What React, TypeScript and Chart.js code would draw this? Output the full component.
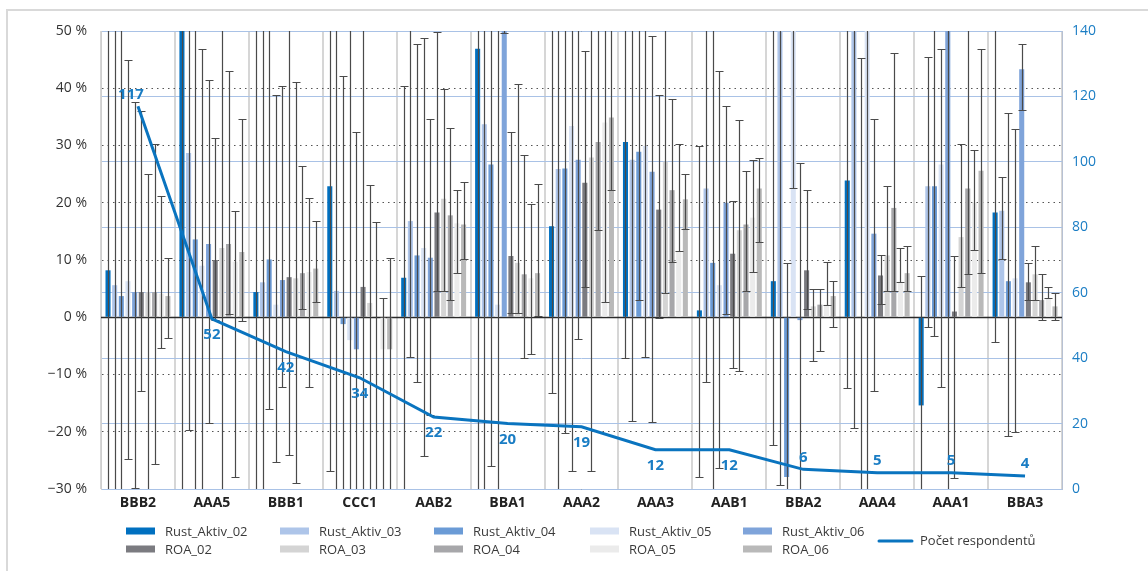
import React, { useEffect, useRef } from "react";
import { Chart, registerables } from "chart.js";

Chart.register(...registerables);

const categories = ["BBB2", "AAA5", "BBB1", "CCC1", "AAB2", "BBA1", "AAA2", "AAA3", "AAB1", "BBA2", "AAA4", "AAA1", "BBA3"];

// Bar values (%)
const rust02 = [8.2, 60, 4.4, 22.9, 6.9, 46.9, 15.9, 30.6, 1.2, 6.3, 23.9, -15.4, 18.3];
const rust03 = [5.6, 28.7, 6.1, 4.6, 16.8, 33.7, 25.9, 27.5, 22.5, 60, 62, 22.9, 18.6];
const rust04 = [3.7, 13.6, 10.1, -1.2, 10.8, 26.7, 26.0, 28.9, 9.5, -27.9, 0, 22.9, 6.3];
const rust05 = [6.3, 9.0, 2.2, -4.0, 12.1, 2.2, 33.4, 29.9, 5.6, 60, 60, 26.7, 6.8];
const rust06 = [4.4, 12.8, 6.5, -5.6, 10.4, 68, 27.5, 25.4, 20.0, -0.5, 14.6, 65, 43.3];
const roa02 = [4.4, 10.0, 7.0, 5.3, 18.3, 10.7, 23.5, 18.8, 11.1, 8.2, 7.3, 1.0, 6.1];
const roa03 = [4.4, 12.1, 6.8, 2.5, 20.7, 9.5, 27.9, 27.2, 15.2, 1.9, 10.8, 14.0, 7.5];
const roa04 = [4.4, 12.8, 7.7, 0, 17.8, 7.5, 30.6, 22.2, 16.2, 2.2, 19.1, 22.5, 3.0];
const roa05 = [4.1, 9.7, 7.9, -5.6, 16.4, 6.8, 34.0, 11.6, 17.4, 2.2, 6.2, 20.0, 3.3];
const roa06 = [3.7, 11.4, 8.5, -5.6, 16.2, 7.7, 34.9, 20.6, 22.5, 3.7, 7.7, 25.6, 1.9];

// Error bar ends (%)
const rust02Lo = [-60, -60, -60, -26.9, -60, -60, -13.2, -7.2, -27.9, -22.4, -12.3, -60, -4.3];
const rust02Hi = [80, 80, 80, 80, 40.4, 80, 80, 80, 29.9, 80, 80, 7.2, 80];
const rust03Lo = [-60, -19.7, -60, -60, -7.0, -60, -60, -18.1, -11.3, -29.3, -19.4, -1.7, 10.1];
const rust03Hi = [80, 80, 80, 80, 80, 80, 80, 80, 80, 80, 80, 45.5, 24.5];
const rust04Lo = [-60, -60, -16.1, -60, -11.3, -26.0, -20.3, 3.1, -60, -60, -60, -3.3, -20.7];
const rust04Hi = [80, 80, 80, 42.2, 47.7, 80, 80, 80, 80, 9.4, 45.2, 80, 35.7];
const rust05Lo = [-24.8, -60, -25.3, -60, -24.2, -60, -26.9, -7.0, -26.4, 22.6, -60, -12.1, -20.0];
const rust05Hi = [44.9, 46.8, 38.8, 80, 48.7, 80, 80, 80, 43.1, 80, 80, 46.8, 32.8];
const rust06Lo = [-29.8, -18.5, -12.1, -60, -17.0, 49.7, -3.8, -18.3, 0.5, -60, -12.9, -60, 36.2];
const rust06Hi = [37.6, 41.5, 40.4, 32.3, 34.6, 90, 80, 49.1, 36.9, 27.0, 34.6, 80, 47.7];
const roa02Lo = [-12.9, -0.4, -24.1, -60, 4.6, 0.8, 5.3, -0.2, -8.8, 1.5, 2.4, -28.1, 3.0];
const roa02Hi = [36, 31.3, 80, 80, 49.8, 32.3, 46.5, 38.8, 20.3, 22.2, 10.8, 10.7, 9.4];
const roa03Lo = [-60, -60, -28.9, -60, 4.6, 0.8, -26.9, 4.3, -9.4, -7.7, 4.5, 5.3, 3.1];
const roa03Hi = [25.1, 80, 41.1, 23.1, 39.8, 40.7, 80, 80, 34.4, 5.0, 22.9, 30.3, 12.5];
const roa04Lo = [-25.7, 0.5, 1.5, -60, 3.1, -7.1, 15.2, 9.7, 4.6, -5.9, 4.5, 7.5, -0.4];
const roa04Hi = [30.3, 43.1, 26.4, 16.7, 33.0, 28.4, 80, 38.1, 25.6, 5.0, 46.2, 80, 7.5];
const roa05Lo = [-5.3, -27.9, -12.1, -60, 7.7, -6.5, 2.7, 11.5, 7.9, 2.2, 6.2, 11.8, 3.4];
const roa05Hi = [21.2, 18.6, 20.9, 3.4, 22.2, 19.7, 80, 30.2, 27.4, 9.7, 12.1, 29.3, 5.3];
const roa06Lo = [-3.6, -0.7, 2.7, -60, 10.1, 0.3, 22.2, 15.5, 13.2, -1.7, 4.6, 7.7, -0.4];
const roa06Hi = [10.4, 34.6, 16.8, 10.4, 23.6, 23.3, 50.7, 25.1, 27.9, 6.3, 12.5, 46.8, 4.3];

// Line (right axis)
const respondents = [117, 52, 42, 34, 22, 20, 19, 12, 12, 6, 5, 5, 4];

// Tick ranges
const leftMin = -30, leftMax = 50, leftStep = 10;
const rightMin = 0, rightMax = 140, rightStep = 20;

const FONT = '"Open Sans", "Noto Sans", "DejaVu Sans", sans-serif';
const LINE_BLUE = "#0a74bf";
const LABEL_BLUE = "#1a7dc4";

export default function App() {
  const ref = useRef<HTMLCanvasElement>(null);

  useEffect(() => {
    const canvas = ref.current;
    if (!canvas) return;

    const bars = [
      { label: "Rust_Aktiv_02", data: rust02, lo: rust02Lo, hi: rust02Hi, color: "#0070c0" },
      { label: "Rust_Aktiv_03", data: rust03, lo: rust03Lo, hi: rust03Hi, color: "#aec5e9" },
      { label: "Rust_Aktiv_04", data: rust04, lo: rust04Lo, hi: rust04Hi, color: "#6b9bd6" },
      { label: "Rust_Aktiv_05", data: rust05, lo: rust05Lo, hi: rust05Hi, color: "#d9e3f4" },
      { label: "Rust_Aktiv_06", data: rust06, lo: rust06Lo, hi: rust06Hi, color: "#7fa4da" },
      { label: "ROA_02", data: roa02, lo: roa02Lo, hi: roa02Hi, color: "#7b7b80" },
      { label: "ROA_03", data: roa03, lo: roa03Lo, hi: roa03Hi, color: "#d4d4d4" },
      { label: "ROA_04", data: roa04, lo: roa04Lo, hi: roa04Hi, color: "#a7a7aa" },
      { label: "ROA_05", data: roa05, lo: roa05Lo, hi: roa05Hi, color: "#ebebeb" },
      { label: "ROA_06", data: roa06, lo: roa06Lo, hi: roa06Hi, color: "#b9b9b9" },
    ];

    const datasets: any[] = [
      {
        type: "line",
        label: "Počet respondentů",
        data: respondents,
        yAxisID: "y2",
        borderColor: LINE_BLUE,
        backgroundColor: LINE_BLUE,
        borderWidth: 3,
        pointRadius: 0,
        tension: 0,
        order: 0,
      },
      ...bars.map((b) => ({
        type: "bar",
        label: b.label,
        data: b.data,
        errLo: b.lo,
        errHi: b.hi,
        yAxisID: "y",
        backgroundColor: b.color,
        borderWidth: 0,
        categoryPercentage: 0.9,
        barPercentage: 0.76,
        order: 1,
      })),
    ];

    const errorBars = {
      id: "errorBars",
      afterDatasetDraw(chart: any, args: any) {
        const ds = chart.data.datasets[args.index];
        if (!ds.errLo) return;
        const ctx = chart.ctx;
        const a = chart.chartArea;
        const ys = chart.scales.y;
        ctx.save();
        ctx.beginPath();
        ctx.rect(a.left, a.top, a.right - a.left, a.bottom - a.top);
        ctx.clip();
        ctx.strokeStyle = "#4a4a4a";
        ctx.lineWidth = 1.2;
        args.meta.data.forEach((el: any, j: number) => {
          const x = Math.round(el.x) + 0.5;
          const yl = Math.round(ys.getPixelForValue(ds.errLo[j])) + 0.5;
          const yh = Math.round(ys.getPixelForValue(ds.errHi[j])) + 0.5;
          ctx.beginPath();
          ctx.moveTo(x, yl);
          ctx.lineTo(x, yh);
          ctx.moveTo(x - 4, yl);
          ctx.lineTo(x + 4, yl);
          ctx.moveTo(x - 4, yh);
          ctx.lineTo(x + 4, yh);
          ctx.stroke();
        });
        ctx.restore();
      },
    };

    const zeroLine = {
      id: "zeroLine",
      beforeDatasetsDraw(chart: any) {
        const ctx = chart.ctx;
        const a = chart.chartArea;
        const y0 = Math.round(chart.scales.y.getPixelForValue(0)) + 0.5;
        ctx.save();
        ctx.strokeStyle = "#2a2a2a";
        ctx.lineWidth = 1.5;
        ctx.beginPath();
        ctx.moveTo(a.left, y0);
        ctx.lineTo(a.right, y0);
        ctx.stroke();
        ctx.restore();
      },
    };

    const frame = {
      id: "frame",
      beforeDraw(chart: any) {
        const ctx = chart.ctx;
        ctx.save();
        ctx.strokeStyle = "#d9d9d9";
        ctx.lineWidth = 2;
        ctx.beginPath();
        ctx.moveTo(7, chart.height);
        ctx.lineTo(7, 10);
        ctx.lineTo(chart.width, 10);
        ctx.stroke();
        ctx.restore();
      },
    };

    const lineLabels = {
      id: "lineLabels",
      afterDatasetsDraw(chart: any) {
        const meta = chart.getDatasetMeta(0);
        const ctx = chart.ctx;
        ctx.save();
        ctx.fillStyle = LABEL_BLUE;
        ctx.font = `bold 15px ${FONT}`;
        ctx.textAlign = "center";
        ctx.textBaseline = "middle";
        meta.data.forEach((pt: any, i: number) => {
          const above = i === 0 || i >= 9;
          const dx = i === 0 ? -7 : 0;
          const dy = above ? -12 : 16;
          ctx.fillText(String(respondents[i]), pt.x + dx, pt.y + dy);
        });
        ctx.restore();
      },
    };

    const legendCols = [126, 280, 434, 590, 743];
    const legendRows = [531, 549];
    const customLegend = {
      id: "customLegend",
      afterDraw(chart: any) {
        const ctx = chart.ctx;
        ctx.save();
        ctx.font = `13px ${FONT}`;
        ctx.textBaseline = "middle";
        ctx.textAlign = "left";
        bars.forEach((b, k) => {
          const col = k % 5;
          const row = Math.floor(k / 5);
          const x = legendCols[col];
          const y = legendRows[row];
          ctx.fillStyle = b.color;
          ctx.fillRect(x, y - 3.5, 29, 7);
          ctx.fillStyle = "#3a3a3a";
          ctx.fillText(b.label, x + 39, y + 1);
        });
        ctx.strokeStyle = LINE_BLUE;
        ctx.lineWidth = 3;
        ctx.lineCap = "round";
        ctx.beginPath();
        ctx.moveTo(879, 541);
        ctx.lineTo(912, 541);
        ctx.stroke();
        ctx.fillStyle = "#3a3a3a";
        ctx.fillText("Počet respondentů", 920, 541);
        ctx.restore();
      },
    };

    const chart = new Chart(canvas, {
      type: "bar",
      data: { labels: categories, datasets },
      options: {
        responsive: false,
        animation: false,
        devicePixelRatio: 1,
        layout: { padding: { left: 0, right: 0, top: 31, bottom: 52 } },
        plugins: {
          legend: { display: false },
          tooltip: { enabled: false },
        },
        scales: {
          x: {
            grid: { color: "#d6d6d6", lineWidth: 2, drawTicks: false, offset: true },
            border: { display: false },
            ticks: { color: "#222", font: { family: FONT, size: 14, weight: "bold" }, padding: 6 },
            afterFit: (s: any) => { s.height = 30; },
          },
          y: {
            position: "left",
            min: leftMin,
            max: leftMax,
            ticks: {
              stepSize: leftStep,
              color: "#333",
              font: { family: FONT, size: 14 },
              padding: 14,
              callback: (v: any) => (v < 0 ? "\u2212" + Math.abs(v) : String(v)) + " %",
            },
            grid: {
              drawTicks: false,
              lineWidth: 1,
              color: (c: any) => (c.tick && c.tick.value === 0 ? "rgba(0,0,0,0)" : "#555"),
            },
            border: { display: true, color: "#cfcfcf", width: 1, dash: [1.5, 4] },
            afterFit: (s: any) => { s.width = 101; },
          },
          y2: {
            position: "right",
            min: rightMin,
            max: rightMax,
            ticks: {
              stepSize: rightStep,
              color: LABEL_BLUE,
              font: { family: FONT, size: 14 },
              padding: 10,
            },
            grid: { drawTicks: false, color: "#a9c2e6", lineWidth: 1 },
            border: { display: true, color: "#b7c1d3", width: 1 },
            afterFit: (s: any) => { s.width = 86; },
          },
        },
      } as any,
      plugins: [frame, zeroLine, errorBars, lineLabels, customLegend],
    });

    return () => chart.destroy();
  }, []);

  return (
    <div style={{ position: "absolute", left: 0, top: 0, width: 1148, height: 571, background: "#fff" }}>
      <canvas ref={ref} width={1148} height={571} style={{ display: "block", width: 1148, height: 571 }} />
    </div>
  );
}
